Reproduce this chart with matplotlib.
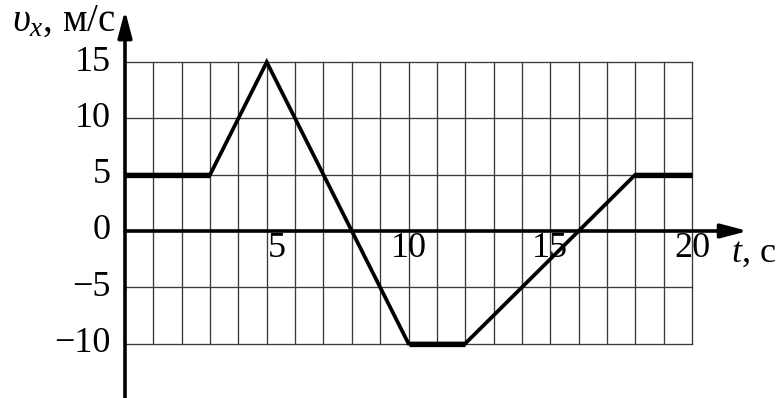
import matplotlib
matplotlib.use("Agg")
import matplotlib.pyplot as plt
import numpy as np

# Data
t_points = [0, 3, 5, 10, 12, 18, 20]
v_points = [5, 5, 15, -10, -10, 5, 5]
x_tick_values = [5, 10, 15, 20]
x_tick_labels = ["5", "10", "15", "20"]
y_tick_values = [15, 10, 5, 0, -5, -10]
y_tick_labels = ["15", "10", "5", "0", "\u22125", "\u221210"]

plt.rcParams['font.family'] = ['Liberation Serif', 'DejaVu Serif']
plt.rcParams['mathtext.fontset'] = 'custom'
plt.rcParams['mathtext.rm'] = 'Liberation Serif'
plt.rcParams['mathtext.it'] = 'Liberation Serif:italic'

W, H = 782, 398
fig = plt.figure(figsize=(W / 100, H / 100), dpi=100)
ax = fig.add_axes([0, 0, 1, 1])
ax.set_axis_off()

# pixel mapping: t=0 at px 125, t=20 at 692; v=0 at px 231 (from top), 5 units = 56.3 px
px_per_s = (692 - 125) / 20
px_per_v = 56.3 / 5
ax.set_xlim(-125 / px_per_s, (W - 125) / px_per_s)
ax.set_ylim(-(H - 231) / px_per_v, 231 / px_per_v)

grid_color = '#3a3a3a'
# grid
for tv in range(1, 21):
    ax.plot([tv, tv], [-10, 15], color=grid_color, lw=0.95, zorder=1)
for vv in [-10, -5, 5, 10, 15]:
    ax.plot([0, 20], [vv, vv], color=grid_color, lw=0.95, zorder=1)

# axes with arrows
y_bottom = -(H - 231) / px_per_v
ax.annotate('', xy=(0, 19.6), xytext=(0, y_bottom),
            arrowprops=dict(arrowstyle='-|>,head_length=1.6,head_width=0.42',
                            lw=2.6, color='black', shrinkA=0, shrinkB=0,
                            mutation_scale=10), zorder=3)
ax.annotate('', xy=(21.97, 0), xytext=(0, 0),
            arrowprops=dict(arrowstyle='-|>,head_length=1.6,head_width=0.42',
                            lw=2.6, color='black', shrinkA=0, shrinkB=0,
                            mutation_scale=10), zorder=3)

# data line
ax.plot(t_points, v_points, color='black', lw=2.7, zorder=4,
        solid_joinstyle='miter', solid_capstyle='butt')
# flat segments thicker
for i in range(len(t_points) - 1):
    if v_points[i] == v_points[i + 1]:
        ax.plot(t_points[i:i + 2], v_points[i:i + 2], color='black', lw=3.8,
                zorder=4, solid_capstyle='butt')

fs = 26
# y tick labels
for val, lab in zip(y_tick_values, y_tick_labels):
    ax.text(-14 / px_per_s, val, lab, ha='right', va='center', fontsize=fs)

# x tick labels
for val, lab in zip(x_tick_values, x_tick_labels):
    if val == 5:
        ax.text(val + 1 / px_per_s, -1.55, lab, ha='left', va='center', fontsize=fs)
    else:
        ax.text(val, -1.55, lab, ha='center', va='center', fontsize=fs)

# axis labels
ax.text(-4.0, 17.76, r'$\upsilon_x$, м/с', ha='left', va='baseline', fontsize=28)
ax.text(21.38, -2.75, r'$t$, с', ha='left', va='baseline', fontsize=fs)

fig.savefig('out.png', dpi=100)
